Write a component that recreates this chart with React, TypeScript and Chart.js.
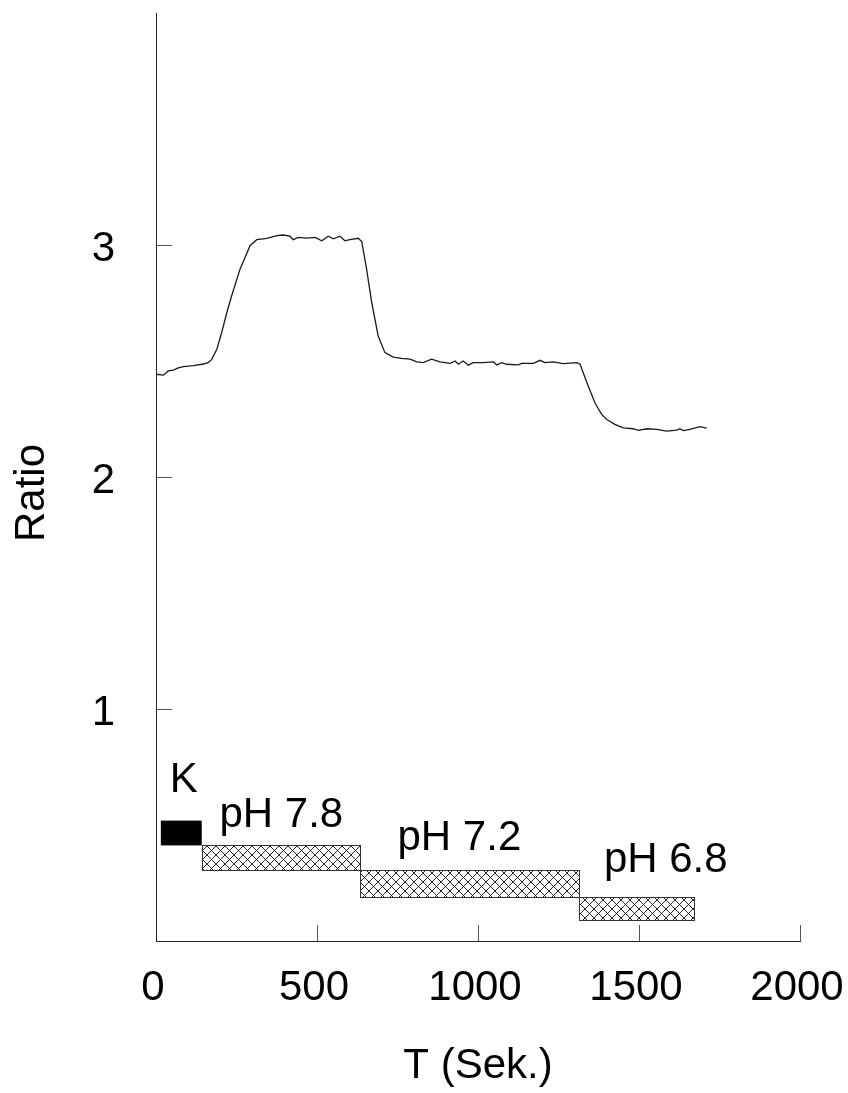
import React, { useEffect, useRef } from 'react';
import { Chart, registerables } from 'chart.js';

Chart.register(...registerables);

// ---- Data ----
const timeSec = [
  0, 23, 38, 54, 69, 85, 116, 147, 162, 173, 189, 204, 220, 235, 261, 292, 313, 344, 375, 395,
  416, 426, 442, 468, 494, 515, 535, 551, 571, 587, 602, 628, 639, 654, 670, 690, 711, 737, 763, 789,
  810, 830, 856, 882, 913, 929, 939, 954, 970, 985, 1016, 1048, 1058, 1074, 1089, 1125, 1136, 1172, 1193, 1208,
  1234, 1265, 1307, 1317, 1338, 1363, 1384, 1400, 1425, 1451, 1482, 1498, 1524, 1555, 1586, 1617, 1627, 1638, 1658, 1689,
  1710,
];
const ratio = [
  2.443, 2.439, 2.457, 2.461, 2.470, 2.476, 2.480, 2.487, 2.493, 2.507, 2.551, 2.623, 2.709, 2.781, 2.896, 2.997, 3.023, 3.029, 3.040, 3.043,
  3.038, 3.023, 3.033, 3.030, 3.033, 3.018, 3.038, 3.027, 3.038, 3.018, 3.023, 3.029, 3.015, 2.896, 2.752, 2.608, 2.536, 2.517, 2.511, 2.508,
  2.496, 2.493, 2.508, 2.496, 2.490, 2.500, 2.486, 2.500, 2.482, 2.493, 2.493, 2.496, 2.483, 2.493, 2.486, 2.483, 2.490, 2.490, 2.503, 2.493,
  2.496, 2.489, 2.493, 2.486, 2.407, 2.320, 2.270, 2.248, 2.227, 2.212, 2.208, 2.201, 2.208, 2.205, 2.198, 2.202, 2.208, 2.200, 2.205, 2.217,
  2.211,
];

const xTicks = [0, 500, 1000, 1500, 2000];
const yTicks = [1, 2, 3];

const condNames = ['K', 'pH 7.8', 'pH 7.2', 'pH 6.8'];
const condStart = [15, 142, 634, 1314];
const condEnd = [142, 634, 1314, 1671];
const condHigh = [0.519, 0.412, 0.304, 0.189];
const condLow = [0.412, 0.304, 0.189, 0.088];
const condSolid = [true, false, false, false];
const labelTime = [43, 197, 750, 1391];
const labelRatio = [0.643, 0.491, 0.393, 0.299];

const xTitle = 'T (Sek.)';
const yTitle = 'Ratio';

const FONT = '"Liberation Sans", Arial, Helvetica, sans-serif';
const FS = 42;

function makeHatch(ctx: CanvasRenderingContext2D): CanvasPattern | string {
  const s = 9;
  const c = document.createElement('canvas');
  c.width = s;
  c.height = s;
  const g = c.getContext('2d');
  if (!g) return '#888';
  g.strokeStyle = '#111';
  g.lineWidth = 0.9;
  g.beginPath();
  for (let k = -1; k <= 1; k++) {
    g.moveTo(-1, -1 + k * s);
    g.lineTo(s + 1, s + 1 + k * s);
    g.moveTo(-1, s + 1 + k * s);
    g.lineTo(s + 1, -1 + k * s);
  }
  g.stroke();
  return ctx.createPattern(c, 'repeat') || '#888';
}

const conditionPlugin = {
  id: 'conditions',
  afterDatasetsDraw(chart: any) {
    const ctx: CanvasRenderingContext2D = chart.ctx;
    const xs = chart.scales.x;
    const ys = chart.scales.y;
    const hatch = makeHatch(ctx);
    ctx.save();
    for (let i = 0; i < condNames.length; i++) {
      const x0 = xs.getPixelForValue(condStart[i]);
      const x1 = xs.getPixelForValue(condEnd[i]);
      const y0 = ys.getPixelForValue(condHigh[i]);
      const y1 = ys.getPixelForValue(condLow[i]);
      if (condSolid[i]) {
        ctx.fillStyle = '#000';
        ctx.fillRect(x0, y0, x1 - x0, y1 - y0);
      } else {
        ctx.fillStyle = '#fff';
        ctx.fillRect(x0, y0, x1 - x0, y1 - y0);
        ctx.fillStyle = hatch as any;
        ctx.fillRect(x0, y0, x1 - x0, y1 - y0);
        ctx.strokeStyle = '#333';
        ctx.lineWidth = 1;
        ctx.strokeRect(Math.round(x0) + 0.5, Math.round(y0) + 0.5, Math.round(x1 - x0), Math.round(y1 - y0));
      }
    }
    ctx.fillStyle = '#000';
    ctx.font = `${FS}px ${FONT}`;
    ctx.textAlign = 'left';
    ctx.textBaseline = 'alphabetic';
    for (let i = 0; i < condNames.length; i++) {
      ctx.fillText(condNames[i], xs.getPixelForValue(labelTime[i]), ys.getPixelForValue(labelRatio[i]));
    }
    // y-axis title
    const cy = (chart.chartArea.top + chart.chartArea.bottom) / 2 + 16;
    ctx.translate(43.5, cy);
    ctx.rotate(-Math.PI / 2);
    ctx.textAlign = 'center';
    ctx.fillText(yTitle, 0, 0);
    ctx.restore();
  },
};

export default function App() {
  const ref = useRef<HTMLCanvasElement | null>(null);

  useEffect(() => {
    if (!ref.current) return;
    Chart.defaults.font.family = FONT;
    const chart = new Chart(ref.current, {
      type: 'line',
      data: {
        datasets: [
          {
            data: timeSec.map((t, i) => ({ x: t, y: ratio[i] })),
            borderColor: '#1a1a1a',
            borderWidth: 1.3,
            pointRadius: 0,
            fill: false,
            tension: 0,
          },
        ],
      },
      options: {
        responsive: false,
        animation: false,
        devicePixelRatio: 1,
        layout: { padding: { top: 13, right: 48, left: 0, bottom: 0 } },
        plugins: { legend: { display: false }, tooltip: { enabled: false } },
        scales: {
          x: {
            type: 'linear',
            min: 0,
            max: 2000,
            afterBuildTicks: (s: any) => {
              s.ticks = xTicks.map((v) => ({ value: v }));
            },
            afterFit: (s: any) => {
              s.height = 152;
              s.paddingLeft = 0;
              s.paddingRight = 0;
            },
            grid: { display: true, drawOnChartArea: false, drawTicks: true, tickLength: -16, color: '#555', lineWidth: 1 },
            border: { display: true, color: '#222', width: 1 },
            ticks: {
              font: { size: FS },
              color: '#000',
              padding: 38,
              labelOffset: -3,
              maxRotation: 0,
              autoSkip: false,
              callback: (v: any) => String(v),
            },
            title: { display: true, text: xTitle, font: { size: FS }, color: '#000', padding: { top: 0, bottom: 1 } },
          },
          y: {
            type: 'linear',
            min: 0,
            max: 4,
            afterBuildTicks: (s: any) => {
              s.ticks = yTicks.map((v) => ({ value: v }));
            },
            afterFit: (s: any) => {
              s.width = 156;
              s.paddingTop = 0;
              s.paddingBottom = 0;
            },
            grid: { display: true, drawOnChartArea: false, drawTicks: true, tickLength: -16, color: '#555', lineWidth: 1 },
            border: { display: true, color: '#222', width: 1 },
            ticks: {
              font: { size: FS },
              color: '#000',
              padding: 57,
              labelOffset: 4,
              autoSkip: false,
              callback: (v: any) => String(v),
            },
          },
        },
      },
      plugins: [conditionPlugin],
    } as any);
    return () => chart.destroy();
  }, []);

  return (
    <div style={{ position: 'fixed', left: 0, top: 0, width: 848, height: 1093, background: '#fff' }}>
      <canvas ref={ref} width={848} height={1093} style={{ display: 'block' }} />
    </div>
  );
}
